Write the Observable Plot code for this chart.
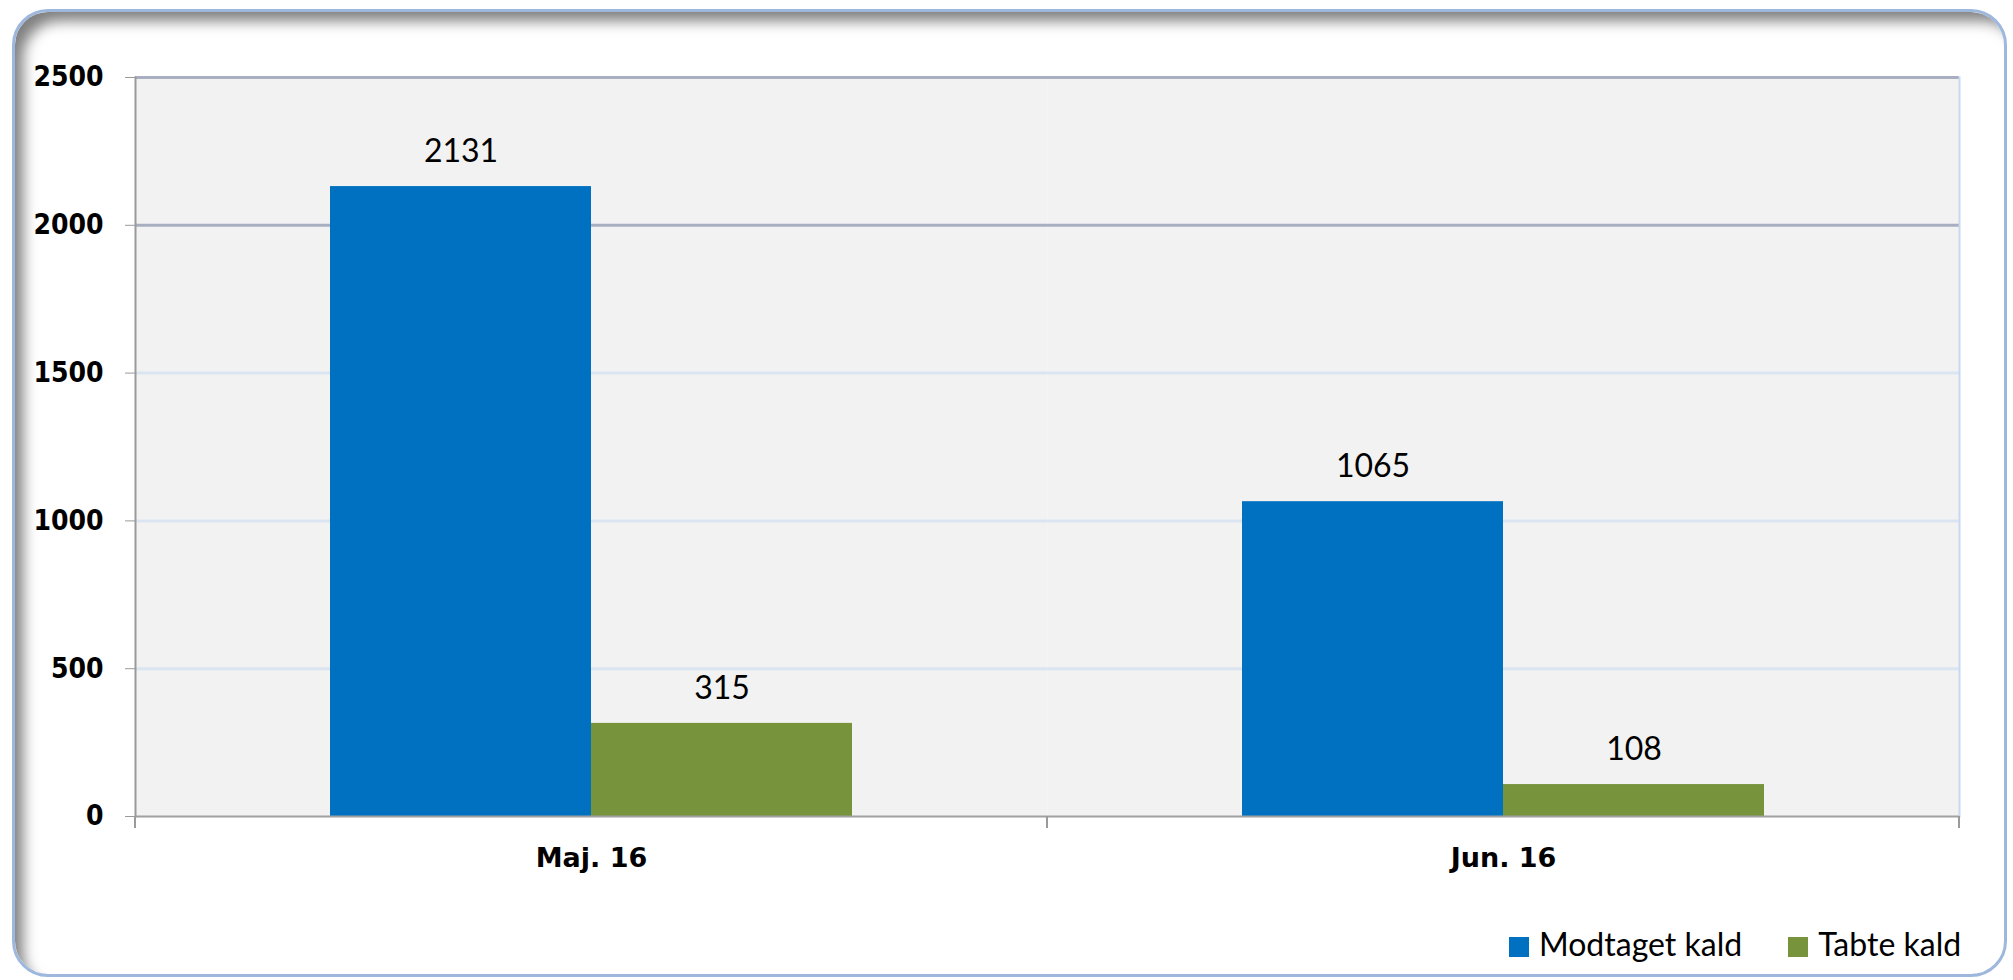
<!DOCTYPE html>
<html>
<head>
<meta charset="utf-8">
<script src="https://cdn.jsdelivr.net/npm/d3@7"></script>
<script src="https://cdn.jsdelivr.net/npm/@observablehq/plot@0.6"></script>
<style>
  html, body { margin: 0; padding: 0; background: #ffffff; }
  body { width: 2013px; height: 980px; position: relative; overflow: hidden; }
  #card {
    position: absolute; left: 12px; top: 9px; width: 1995px; height: 968px;
    box-sizing: border-box;
    border: 3px solid #9db8dc;
    border-radius: 36px;
    box-shadow: inset 12px 13px 14px -4px rgba(0,0,0,0.5);
    background: #ffffff;
  }
  #wrap { position: absolute; left: 0; top: 0; width: 2013px; }
  #legend {
    position: absolute; left: 1509px; top: 924px;
    display: flex; align-items: center;
    font-family: Lato, "Open Sans", sans-serif; font-size: 32px; color: #000;
  }
  #legend .sw { width: 20px; height: 20px; display: inline-block; margin-right: 10px; margin-top: 6px; }
  #legend .item { display: flex; align-items: center; margin-right: 46px; }
  #legend .item:last-child { margin-right: 0; }
</style>
</head>
<body>
<div id="card"></div>
<div id="wrap"></div>
<script>
const months = ["Maj. 16", "Jun. 16"];
const seriesNames = ["Modtaget kald", "Tabte kald"];
const modtaget = [2131, 1065];
const tabte = [315, 108];
const yTicks = [0, 500, 1000, 1500, 2000, 2500];
const lightGrid = [500, 1000, 1500];
const darkGrid = [2000, 2500];
const colors = ["#0070c0", "#77933c"];

const data = months.flatMap((m, i) => [
  {month: m, series: seriesNames[0], value: modtaget[i]},
  {month: m, series: seriesNames[1], value: tabte[i]}
]);

const chart = Plot.plot({
  width: 2013,
  height: 900,
  marginLeft: 135,
  marginRight: 54,
  marginTop: 77,
  marginBottom: 84,
  style: {background: "transparent", overflow: "visible"},
  fx: {domain: months, padding: 0, label: null},
  x: {domain: seriesNames, paddingInner: 0, paddingOuter: 0.747, axis: null},
  y: {domain: [0, 2500], label: null},
  color: {domain: seriesNames, range: colors},
  marks: [
    Plot.frame({fill: "#f2f2f2"}),
    Plot.ruleY(lightGrid, {stroke: "#dbe5f1", strokeWidth: 3}),
    Plot.ruleY(darkGrid, {stroke: "#a7afc1", strokeWidth: 3}),
    Plot.frame({anchor: "right", facetAnchor: "right", stroke: "#c6d9f1", strokeWidth: 2}),
    Plot.barY(data, {fx: "month", x: "series", y: "value", fill: "series"}),
    Plot.frame({anchor: "left", facetAnchor: "left", stroke: "#9a9a9a", strokeWidth: 2}),
    Plot.ruleY([0], {stroke: "#a0a0a0", strokeWidth: 2}),
    Plot.text(data, {
      fx: "month", x: "series", y: "value", text: d => String(d.value),
      dy: -35, fontSize: 32, fontFamily: "Lato, 'Open Sans', sans-serif", fill: "#000"
    }),
    Plot.axisY({
      ticks: yTicks, tickSize: 10, tickPadding: 22, stroke: "#9a9a9a", fill: "#000",
      fontSize: 28, fontWeight: "bold", fontFamily: "'DejaVu Sans Condensed', 'DejaVu Sans', sans-serif",
      tickFormat: d => String(d), label: null
    }),
    Plot.axisFx({
      anchor: "bottom", tickSize: 0, tickPadding: 31, fill: "#000",
      fontSize: 27, fontWeight: "bold", fontFamily: "'DejaVu Sans', sans-serif",
      label: null
    })
  ]
});

document.getElementById("wrap").appendChild(chart);

// category boundary tick marks below the x axis, positioned with Plot's scales
const fxScale = chart.scale("fx");
const yScale = chart.scale("y");
const y0 = yScale.apply(0);
const bounds = months.map(m => fxScale.apply(m));
bounds.push(fxScale.apply(months[months.length - 1]) + fxScale.bandwidth);
d3.select(chart).append("g")
  .attr("stroke", "#9a9a9a").attr("stroke-width", 2)
  .selectAll("line").data(bounds).join("line")
  .attr("x1", d => d).attr("x2", d => d)
  .attr("y1", y0).attr("y2", y0 + 12);

// legend
const legend = document.createElement("div");
legend.id = "legend";
seriesNames.forEach((s, i) => {
  const item = document.createElement("div");
  item.className = "item";
  const sw = document.createElement("span");
  sw.className = "sw";
  sw.style.background = colors[i];
  const label = document.createElement("span");
  label.textContent = s;
  item.appendChild(sw);
  item.appendChild(label);
  legend.appendChild(item);
});
document.getElementById("wrap").appendChild(legend);
</script>
</body>
</html>
